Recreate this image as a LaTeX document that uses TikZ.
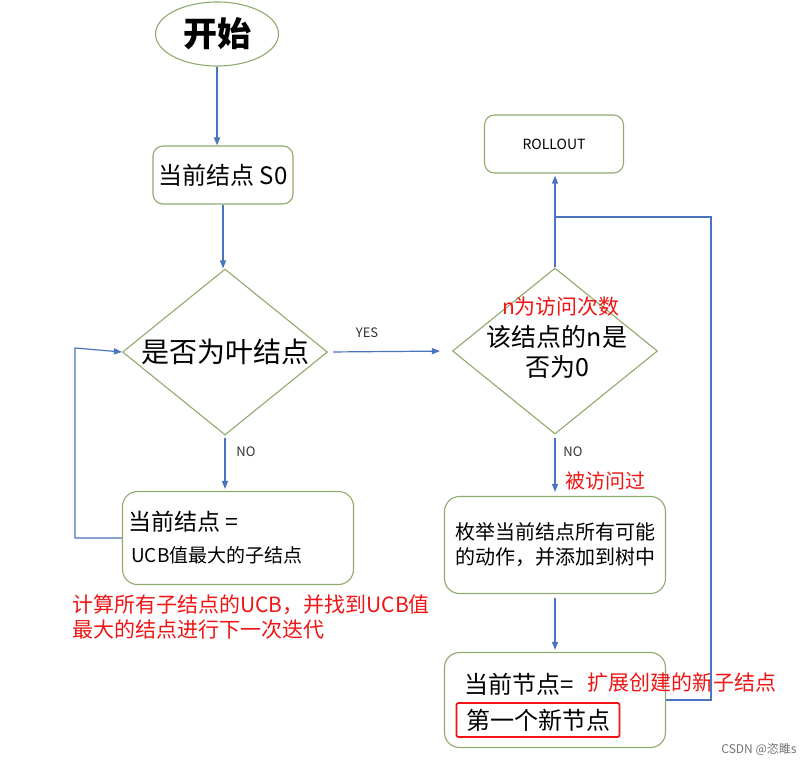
\documentclass[tikz,border=0pt]{standalone}
\usepackage{fontspec}
\setmainfont{Noto Sans CJK SC}
\usetikzlibrary{shapes.geometric,arrows.meta}
\definecolor{boxgreen}{HTML}{8EAA6E}
\definecolor{linkblue}{HTML}{4A74C0}
\definecolor{notered}{HTML}{F01414}

\begin{document}
\begin{tikzpicture}[x=1pt,y=-1pt,
		box/.style={draw=boxgreen, line width=1.1pt, rounded corners=10pt, inner sep=0pt},
		decision/.style={diamond, draw=boxgreen, line width=1.1pt, minimum width=205, minimum height=166, inner sep=0pt},
		link/.style={draw=linkblue, line width=1.2pt},
		note/.style={text=notered, inner sep=0pt},
		small/.style={font=\fontsize{13}{15}\selectfont, text=black!80, inner sep=0pt},
		>={Triangle[length=8pt,width=6pt]}]
			\useasboundingbox (0,0) rectangle (805,764);
			\node [ellipse, draw=boxgreen, line width=1.1pt, minimum width=123, minimum height=64, font=\fontsize{34}{40}\selectfont\bfseries] (start) at (217,34) {开始};
			\node [box, minimum width=140, minimum height=58, font=\fontsize{24}{28}\selectfont] (s0) at (223,175) {当前结点 S0};
			\node [decision] (leaf) at (225,352) {};
			\node [font=\fontsize{28}{32}\selectfont, inner sep=0pt] (leaftext) at (leaf) {是否为叶结点};
			\node [decision] (visit) at (555,351) {};
			\node [note, font=\fontsize{21}{24}\selectfont] (visitnote) at (561,307) {n为访问次数};
			\node [font=\fontsize{25}{30}\selectfont, inner sep=0pt, align=center] (visittext) at (557,352) {该结点的n是\\否为0};
			\node [box, minimum width=139, minimum height=58, font=\fontsize{14}{16}\selectfont] (rollout) at (554,144) {ROLLOUT};
			\node [box, rounded corners=15pt, minimum width=231, minimum height=93] (best) at (238,538) {};
			\node [anchor=west, inner sep=0pt, font=\fontsize{23}{26}\selectfont] (besttop) at (128,522) {当前结点 =};
			\node [anchor=west, inner sep=0pt, font=\fontsize{19}{22}\selectfont] (bestbottom) at (131,555) {UCB值最大的子结点};
			\node [note, anchor=north west, align=left, font=\fontsize{21}{25}\selectfont] (ucbnote) at (72,595) {计算所有子结点的UCB，并找到UCB值\\最大的结点进行下一次迭代};
			\node [box, rounded corners=15pt, minimum width=221, minimum height=97, align=center, font=\fontsize{20}{25}\selectfont] (expand) at (555,545) {枚举当前结点所有可能\\的动作，并添加到树中};
			\node [box, rounded corners=15pt, minimum width=221, minimum height=95] (newnode) at (555,700) {};
			\node [anchor=west, inner sep=0pt, font=\fontsize{24}{28}\selectfont] (newtop) at (464,684) {当前节点=};
			\node [note, anchor=west, font=\fontsize{21}{24}\selectfont] (newnote) at (587,683) {扩展创建的新子结点};
			\node [draw=notered, line width=1.8pt, rounded corners=2pt, minimum width=163, minimum height=34, inner sep=0pt, font=\fontsize{24}{28}\selectfont] (firstnew) at (538,720) {第一个新节点};
			\node [small] (yes) at (367,333) {YES};
			\node [small] (leafno) at (246,452) {NO};
			\node [small] (visitno) at (573,452) {NO};
			\node [note, font=\fontsize{20}{24}\selectfont] (visited) at (605,481) {被访问过};
			\node [inner sep=0pt, text=black!55, font=\fontsize{12}{14}\selectfont] (mark) at (759,749) {CSDN @恣雎s};
			\coordinate (loopleft) at (75,348);
			\coordinate (loopright) at (711,217);
			\draw [link,->] (start.south) -- (start.south |- s0.north);
			\draw [link,->] (s0.south) -- (s0.south |- leaf.north);
			\draw [link,->, shorten <=5pt, shorten >=12pt] (leaf.east) -- (visit.west);
			\draw [link,->, shorten <=2pt, shorten >=2pt] (leaf.south) -- (leaf.south |- best.north);
			\draw [link,->] (best.west) -| (loopleft) -- (leaf.west);
			\draw [link,->, shorten >=2pt] (visit.north) -- (visit.north |- rollout.south);
			\draw [link,->, shorten <=3pt, shorten >=4pt] (visit.south) -- (expand.north);
			\draw [link,->, shorten <=4pt, shorten >=2pt] (expand.south) -- (newnode.north);
			\draw [link] (newnode.east) -| (loopright) -- (visit.north |- loopright);
		\end{tikzpicture}
\end{document}
